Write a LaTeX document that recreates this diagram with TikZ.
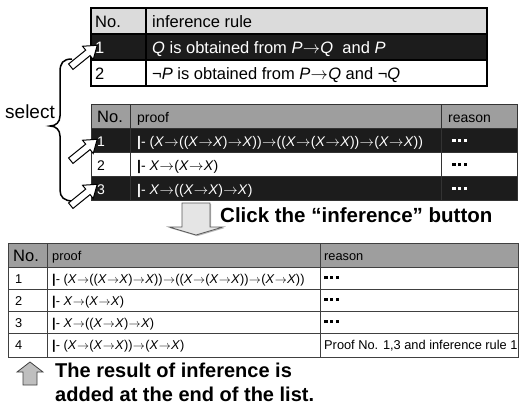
\documentclass[tikz,border=0pt]{standalone}
\usepackage{fontspec}
\setmainfont{Liberation Sans}
\usetikzlibrary{shadows}
\definecolor{hdrlight}{gray}{0.86}
\definecolor{hdrmid}{gray}{0.62}
\definecolor{rowdark}{gray}{0.11}
\newcommand{\vX}{\textit{X}}
\newcommand{\imp}{\kern0.3pt$\to$\kern0.3pt}
\newcommand{\prv}{\textbf{|}-\ }
\newcommand{\fmA}{\prv(\vX\imp((\vX\imp\vX)\imp\vX))\imp((\vX\imp(\vX\imp\vX))\imp(\vX\imp\vX))}
\newcommand{\fmB}{\prv\vX\imp(\vX\imp\vX)}
\newcommand{\fmC}{\prv\vX\imp((\vX\imp\vX)\imp\vX)}
\newcommand{\fmD}{\prv(\vX\imp(\vX\imp\vX))\imp(\vX\imp\vX)}
\newcommand{\etcsq}{\rule[4pt]{3.3pt}{3.3pt}\hspace{2.6pt}\rule[4pt]{3.3pt}{3.3pt}\hspace{2.6pt}\rule[4pt]{3.3pt}{3.3pt}}
\newcommand{\sizeA}{\fontsize{16.5}{18}\selectfont}
\newcommand{\sizeB}{\fontsize{14}{16}\selectfont}
\newcommand{\sizeC}{\fontsize{12.8}{15}\selectfont}

\begin{document}
\begin{tikzpicture}[x=1pt,y=-1pt]
    \tikzstyle{cell}=[anchor=base west, inner sep=0pt]
    \tikzstyle{frame}=[draw=black, line width=1.2pt]
    \tikzstyle{rule}=[draw=black!80, line width=0.9pt]
    \tikzstyle{select arrow}=[draw=black, fill=white, line width=1pt, line join=miter]
    \tikzstyle{block arrow}=[draw=black!65, fill=black!10, line width=0.8pt]
    \tikzstyle{note}=[anchor=base west, inner sep=0pt, font=\bfseries\fontsize{20}{24}\selectfont]

    \useasboundingbox (0,0) rectangle (529,410);

    % table of inference rules
    \fill[hdrlight] (91,8) rectangle (487,34);
    \fill[rowdark] (91,34) rectangle (487,60);
    \draw[frame] (91,8) rectangle (487,86);
    \foreach \y in {34,60}
        \draw[frame] (91,\y) -- (487,\y);
    \draw[frame] (146,8) -- (146,86);
    \node[cell, font=\sizeA] (t1-hno) at (95,27) {No.};
    \node[cell, font=\sizeA] (t1-hrule) at (152,27) {inference rule};
    \node[cell, font=\sizeA, text=white] (t1-n1) at (95,53) {1};
    \node[cell, font=\sizeA, text=white] (t1-r1) at (152,53) {\textit{Q} is obtained from \textit{P}\imp\textit{Q}\ \ and \textit{P}};
    \node[cell, font=\sizeA] (t1-n2) at (95,79) {2};
    \node[cell, font=\sizeA] (t1-r2) at (152,79) {¬\textit{P} is obtained from \textit{P}\imp\textit{Q} and ¬\textit{Q}};

    % table of proofs, rows 1 and 3 selected
    \fill[hdrmid] (91,104) rectangle (517,128);
    \foreach \y in {128,176}
        \fill[rowdark] (91,\y) rectangle (517,\y+24);
    \draw[rule] (91,104) rectangle (517,200);
    \foreach \y in {128,152,176}
        \draw[rule] (91,\y) -- (517,\y);
    \foreach \x in {130,441}
        \draw[rule] (\x,104) -- (\x,200);
    \node[cell, font=\sizeA] (t2-hno) at (97,122) {No.};
    \node[cell, font=\sizeB] (t2-hproof) at (137,122) {proof};
    \node[cell, font=\sizeB] (t2-hreason) at (448,122) {reason};
    \foreach \n/\f/\y/\c in {1/\fmA/146/white, 2/\fmB/170/black, 3/\fmC/194/white} {
        \node[cell, font=\sizeB, text=\c] (t2-n\n) at (97,\y) {\n};
        \node[cell, font=\sizeB, text=\c] (t2-p\n) at (137,\y) {\f};
        \node[cell, font=\sizeB, text=\c] (t2-r\n) at (452,\y) {\etcsq};
    }

    % selection
    \node[cell, font=\fontsize{19}{21}\selectfont] (select) at (5,118) {select};
    \coordinate (brace-top) at (72,59);
    \coordinate (brace-tip) at (50,126);
    \coordinate (brace-bot) at (73,201);
    \draw[line width=1.5pt] (brace-top) .. controls (63,59) and (60,63) .. (60,72) -- (60,116)
        .. controls (60,122) and (56,126) .. (brace-tip)
        .. controls (56,126) and (60,130) .. (60,136) -- (60,190)
        .. controls (60,197) and (64,201) .. (brace-bot);
    \foreach \c [count=\i] in {(84,56),(84,150),(84,195)}
        \draw[select arrow, shift={\c}, rotate=39] (-17,-3.5) -- (5,-3.5) -- (5,-8.5) -- (17,0)
            coordinate (sel-\i) -- (5,8.5) -- (5,3.5) -- (-17,3.5) -- cycle;

    % inference step
    \draw[block arrow, drop shadow={shadow xshift=1.2pt, shadow yshift=-1.2pt, fill=black!55}]
        (182,203) -- (210,203) -- (210,227) -- (223,227) -- (196,235) coordinate (click)
        -- (169,227) -- (182,227) -- cycle;
    \node[note, font=\bfseries\fontsize{20.5}{24}\selectfont] (click-text) at (220,222) {Click the “inference” button};

    % resulting list
    \fill[hdrmid] (8,243) rectangle (518,267);
    \draw[rule, draw=black!75] (8,243) rectangle (518,357);
    \foreach \y in {267,289,311,333}
        \draw[rule, draw=black!75] (8,\y) -- (518,\y);
    \foreach \x in {47,320}
        \draw[rule, draw=black!75] (\x,243) -- (\x,357);
    \node[cell, font=\sizeA] (t3-hno) at (13,261) {No.};
    \node[cell, font=\sizeC] (t3-hproof) at (52,260) {proof};
    \node[cell, font=\sizeC] (t3-hreason) at (324,260) {reason};
    \foreach \n/\f/\r in {1/\fmA/\etcsq, 2/\fmB/\etcsq, 3/\fmC/\etcsq, 4/\fmD/{Proof No. 1,3 and inference rule 1}} {
        \node[cell, font=\sizeC] (t3-n\n) at (15,261+22*\n) {\n};
        \node[cell, font=\sizeC] (t3-p\n) at (52,261+22*\n) {\f};
        \node[cell, font=\sizeC] (t3-r\n) at (324,261+22*\n) {\r};
    }

    \draw[block arrow, fill=black!25, draw=black!75]
        (23,385) -- (37,385) -- (37,372) -- (43,372) -- (30,362) coordinate (added)
        -- (17,372) -- (23,372) -- cycle;
    \node[note] (added-text-1) at (55,377) {The result of inference is};
    \node[note] (added-text-2) at (55,401) {added at the end of the list.};
\end{tikzpicture}
\end{document}
